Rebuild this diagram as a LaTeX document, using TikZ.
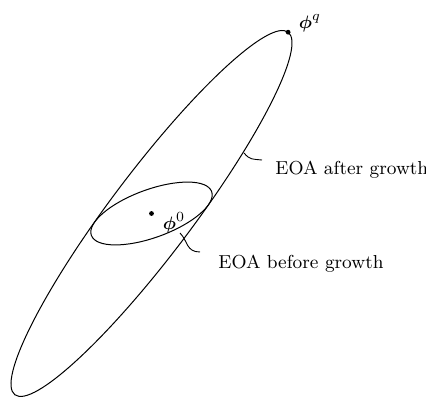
\documentclass[tikz,border=0pt]{standalone}
\usepackage{amsmath}
\usepackage{bm}

\begin{document}
\begin{tikzpicture}[x=0.5pt, y=0.5pt,
  curve/.style={line width=0.5pt, black},
  leader/.style={line width=0.45pt, black},
  dot/.style={circle, fill=black, inner sep=0pt, minimum size=2.4pt},
  tag/.style={inner sep=0pt, font=\fontsize{9.4pt}{11pt}\selectfont}]

\useasboundingbox (0,0) rectangle (426,396);

% the two ellipsoids, same centre
\coordinate (centre) at (151.5,182.5);
\draw[curve, rotate around={53:(centre)}] (centre) ellipse [x radius=227, y radius=41];
\draw[curve, rotate around={20:(centre)}] (centre) ellipse [x radius=64, y radius=24];

\node[dot] (phizero) at (centre) {};
\path (centre) ++(53:227) node[dot] (phiq) {};

\node[tag] (phiqtag) at (310,373) {$\bm{\phi}^q$};
\node[tag] (phizerotag) at (174,173) {$\bm{\phi}^0$};

\node[tag, anchor=base west] (after) at (275,221) {EOA after growth};
\node[tag, anchor=base west] (before) at (218,128) {EOA before growth};

% leaders
\coordinate (bigpt) at (244,243);
\coordinate (bigend) at (262,236);
\coordinate (smallpt) at (180,163);
\coordinate (smallend) at (200,144);
\draw[leader] (bigpt) .. controls (250,236) and (252,237) .. (bigend);
\draw[leader] (smallpt) .. controls (188,155) and (186,144) .. (smallend);
\end{tikzpicture}
\end{document}
